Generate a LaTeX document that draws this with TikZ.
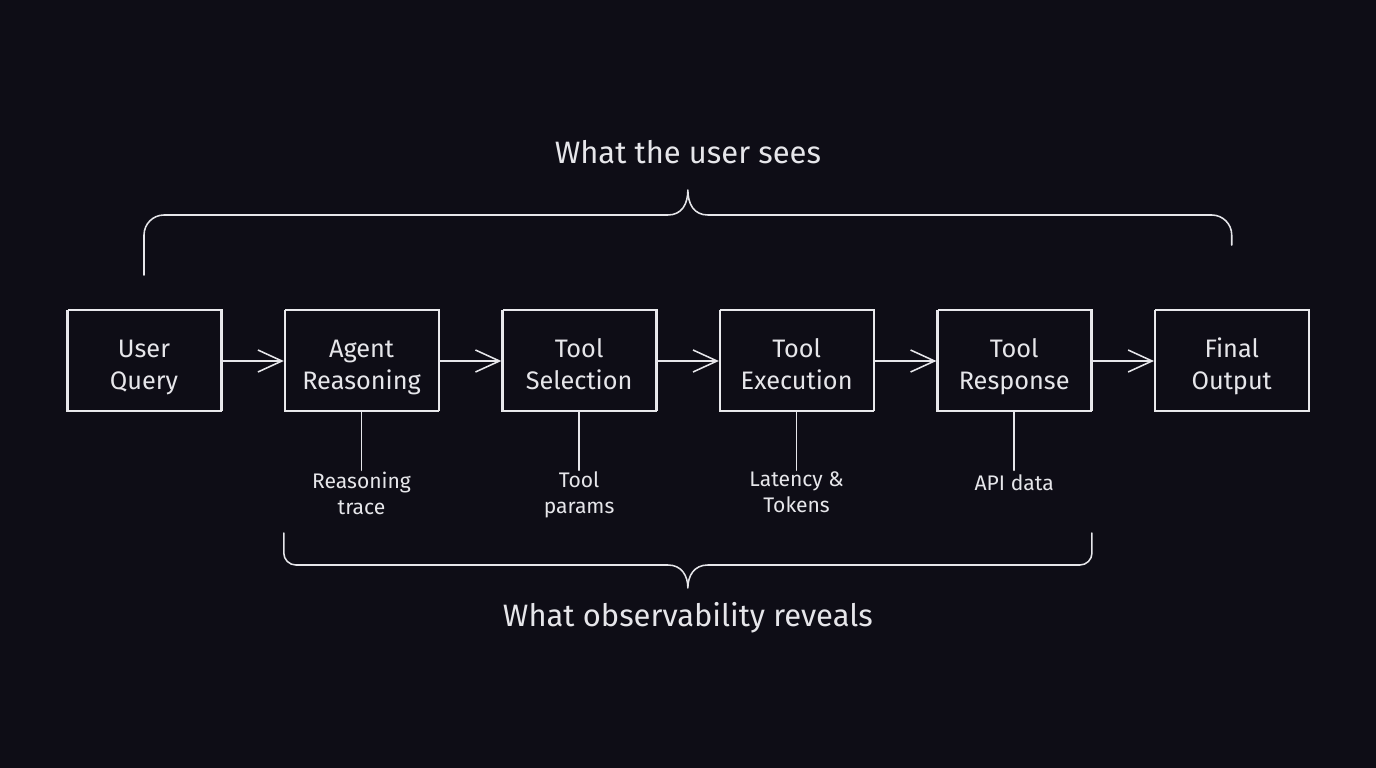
\documentclass[tikz,border=0pt]{standalone}
\usepackage{fontspec}
\setmainfont{Fira Sans}
\usetikzlibrary{arrows.meta,positioning,calc}
\definecolor{bgdark}{RGB}{14,13,22}
\definecolor{chalk}{RGB}{230,230,234}
\tikzset{
  stagebox/.style={draw=chalk, line width=1.1pt, align=center, text=chalk,
    font=\fontsize{18}{23}\selectfont, minimum width=3.85cm, minimum height=2.525cm,
    inner sep=0pt, execute at begin node={\rule{0pt}{1.66cm}}, execute at end node=\strut,
    postaction={draw=chalk!80, line width=0.5pt, transform canvas={shift={(0.7pt,0.9pt)}}}},
  stagearrow/.style={-{Straight Barb[length=6mm,width=5.5mm]}, draw=chalk, line width=1.1pt},
  tracelabel/.style={text=chalk, align=center, font=\fontsize{15}{18.5}\selectfont, inner sep=1pt,
    execute at begin node=\strut},
  headline/.style={text=chalk, font=\fontsize{22}{26}\selectfont},
  bracket/.style={draw=chalk, line width=1.1pt, line cap=round, line join=round}
}

\begin{document}
\begin{tikzpicture}[node distance=1.55cm]
    \fill[bgdark] (0,0) rectangle (34.4,-19.2);
    \useasboundingbox (0,0) rectangle (34.4,-19.2);

    % pipeline
    \node[stagebox] (query) at (3.6,-9.025) {User\\Query};
    \node[stagebox, right=of query] (reason) {Agent\\Reasoning};
    \node[stagebox, right=of reason] (select) {Tool\\Selection};
    \node[stagebox, right=of select] (exec) {Tool\\Execution};
    \node[stagebox, right=of exec] (response) {Tool\\Response};
    \node[stagebox, right=of response] (final) {Final\\Output};
    \draw[stagearrow] (query) -- (reason);
    \draw[stagearrow] (reason) -- (select);
    \draw[stagearrow] (select) -- (exec);
    \draw[stagearrow] (exec) -- (response);
    \draw[stagearrow] (response) -- (final);

    % what gets traced
    \node[tracelabel, below=1.45cm of reason] (trace) {Reasoning\\trace};
    \node[tracelabel, below=1.45cm of select] (params) {Tool\\params};
    \node[tracelabel, below=1.45cm of exec] (latency) {Latency \&\\Tokens};
    \node[tracelabel, below=1.45cm of response] (apidata) {API data};
    \draw[bracket] (reason) -- (trace);
    \draw[bracket] (select) -- (params);
    \draw[bracket] (exec) -- (latency);
    \draw[bracket] (response) -- (apidata);

    % top brace
    \coordinate (seesL) at (query.north |- 0,-6.875);
    \coordinate (seesR) at (final.north |- 0,-6.125);
    \coordinate (seesM) at ($(query.north)!0.5!(final.north)$);
    \coordinate (seesTip) at (seesM |- 0,-4.75);
    \draw[bracket] (seesL) -- ++(0,1.0) arc[start angle=180, end angle=90, radius=0.5]
      -- ($(seesM |- 0,-5.375)+(-0.5,0)$) .. controls +(0.35,0) and +(0,-0.35) .. (seesTip)
      .. controls +(0,-0.35) and +(-0.35,0) .. ($(seesM |- 0,-5.375)+(0.5,0)$)
      -- ($(seesR |- 0,-5.375)+(-0.5,0)$) arc[start angle=90, end angle=0, radius=0.5] -- (seesR);
    \node[headline] (sees) at (seesM |- 0,-3.8) {What the user sees};

    % bottom brace
    \coordinate (obsL) at (reason.south west |- 0,-13.325);
    \coordinate (obsR) at (response.south east |- 0,-13.325);
    \coordinate (obsM) at ($(obsL)!0.5!(obsR)$);
    \coordinate (obsTip) at (obsM |- 0,-14.7);
    \draw[bracket] (obsL) -- ++(0,-0.5) arc[start angle=180, end angle=270, radius=0.3]
      -- ($(obsM |- 0,-14.125)+(-0.5,0)$) .. controls +(0.35,0) and +(0,0.3) .. (obsTip)
      .. controls +(0,0.3) and +(-0.35,0) .. ($(obsM |- 0,-14.125)+(0.5,0)$)
      -- ($(obsR |- 0,-14.125)+(-0.3,0)$) arc[start angle=270, end angle=360, radius=0.3] -- (obsR);
    \node[headline] (reveals) at (obsM |- 0,-15.45) {What observability reveals};
\end{tikzpicture}
\end{document}
